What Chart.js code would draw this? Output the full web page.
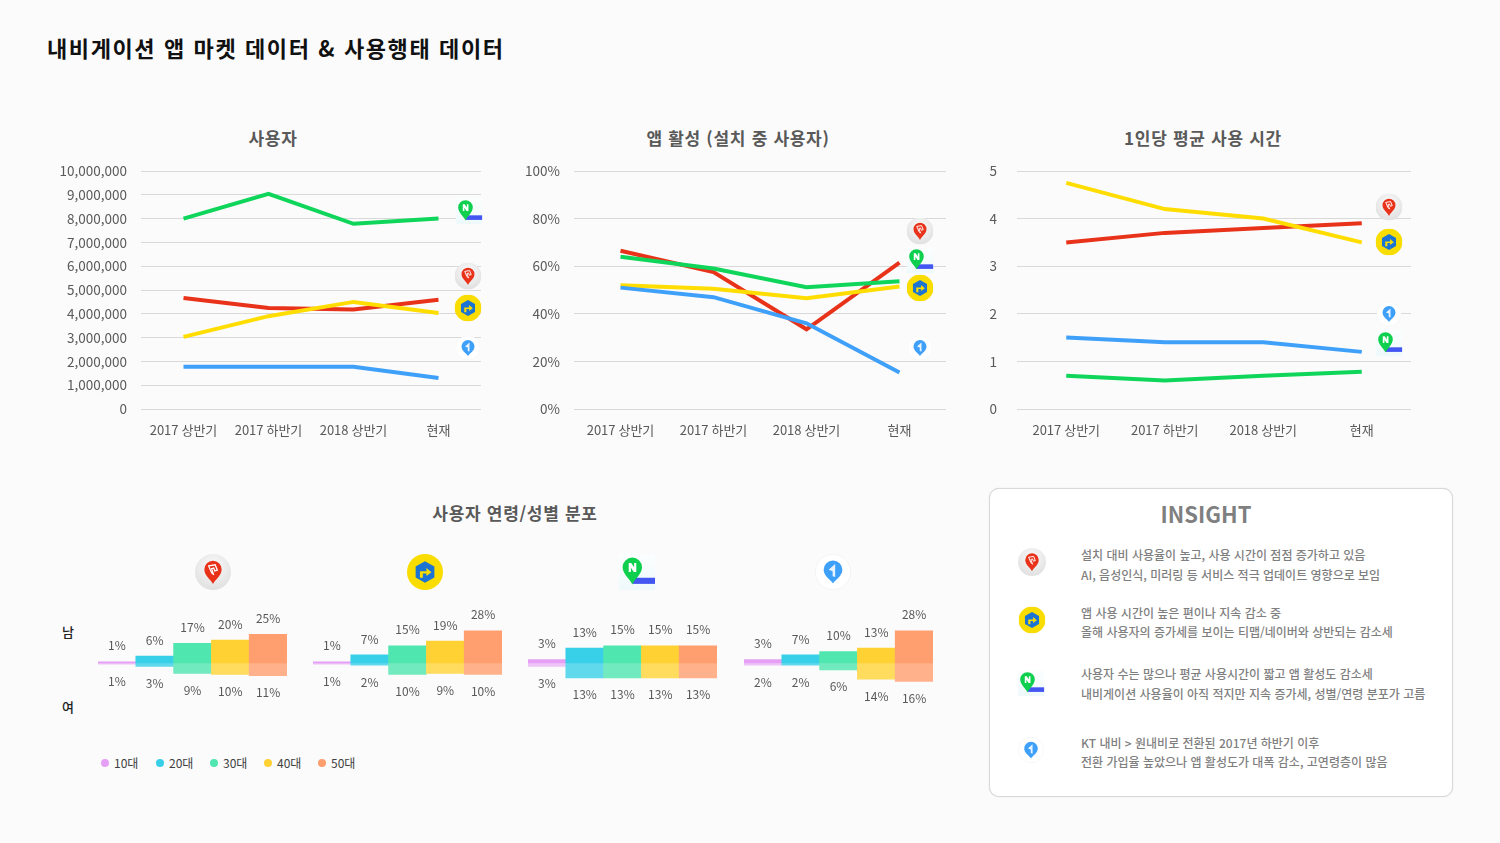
<!DOCTYPE html>
<html lang="ko">
<head>
<meta charset="utf-8">
<title>내비게이션 앱 마켓 데이터</title>
<script src="https://cdn.jsdelivr.net/npm/chart.js@4"></script>
<style>
  html, body { margin: 0; padding: 0; background: #fbfbfb; }
  body { width: 1500px; height: 843px; position: relative; overflow: hidden; font-family: "Noto Sans CJK KR", "Noto Sans", sans-serif; }
  .txt { position: absolute; white-space: nowrap; line-height: 1; transform: translateY(-50%); }
  .ctr { transform: translate(-50%, -50%); }
  .chart { position: absolute; }
  .title { font-size: 22px; font-weight: 700; color: #111; letter-spacing: 1.6px; }
  .sub { font-size: 17px; font-weight: 700; color: #595959; letter-spacing: 0.7px; }
  .card { position: absolute; left: 989px; top: 488px; width: 462px; height: 307px; background: #fff; border: 1px solid #d9d9d9; border-radius: 10px; box-shadow: 0 0 1px #ccc; }
  .ins { font-size: 12px; color: #7f7f7f; font-weight: 500; }
  .legend { font-size: 12px; color: #404040; }
  .dot { position: absolute; width: 8px; height: 8px; border-radius: 50%; transform: translateY(-50%); }
  svg.icon { position: absolute; transform: translate(-50%, -50%); }
</style>
</head>
<body>
<svg width="0" height="0" style="position:absolute">
  <defs>
    <radialGradient id="greyBg" cx="50%" cy="35%" r="70%"><stop offset="0" stop-color="#fbfbfb"/><stop offset="1" stop-color="#dedede"/></radialGradient>
    <linearGradient id="naverBg" x1="0" y1="0" x2="0" y2="1"><stop offset="0" stop-color="#fcfefe"/><stop offset="1" stop-color="#eef9fb"/></linearGradient>
    <symbol id="ic-t" viewBox="0 0 100 100">
      <circle cx="50" cy="50" r="50" fill="url(#greyBg)"/>
      <path d="M50 83C43 70 26 60 26 43a24 24 0 1 1 48 0C74 60 57 70 50 83Z" fill="#e8321a"/>
      <path d="M38 33L56 30L62 45L55 47L52 39L46 41L52 58L46 52Z" fill="none" stroke="#fff" stroke-width="3.5"/>
    </symbol>
    <symbol id="ic-k" viewBox="0 0 100 100">
      <circle cx="50" cy="50" r="50" fill="#f9dc00"/>
      <path d="M50 20L76 35V65L50 80L24 65V35Z" fill="#1b74d4"/>
      <path d="M36 66V48H54V39L68 51L54 61V54H44V66Z" fill="#f9dc00"/>
    </symbol>
    <symbol id="ic-n" viewBox="0 0 100 100">
      <rect width="100" height="100" fill="url(#naverBg)"/>
      <rect x="38" y="66" width="62" height="17" fill="#4356f2"/>
      <path d="M37 85C31 70 10 56 10 37a27 27 0 1 1 54 0C64 56 43 70 37 85Z" fill="#0fcf4f"/>
      <path d="M27 25H34L42 37V25H48V50H41L33 38V50H27Z" fill="#fff"/>
    </symbol>
    <symbol id="ic-o" viewBox="0 0 100 100">
      <circle cx="50" cy="50" r="49" fill="#fff" stroke="#f0f0f0" stroke-width="2"/>
      <path d="M50 82C44 72 24 62 24 44a26 26 0 1 1 52 0C76 62 56 72 50 82Z" fill="#3fa0fa"/>
      <path d="M38 44L56 28V64L49 62V48Z" fill="#e8f3fe"/>
    </symbol>
  </defs>
</svg>

<div class="txt title" style="left:47px;top:47px">내비게이션 앱 마켓 데이터 &amp; 사용행태 데이터</div>

<div class="txt sub ctr" style="left:273px;top:137px">사용자</div>
<div class="txt sub ctr" style="left:738px;top:137px">앱 활성 (설치 중 사용자)</div>
<div class="txt sub ctr" style="left:1203px;top:137px">1인당 평균 사용 시간</div>
<div class="txt sub ctr" style="left:515px;top:512px">사용자 연령/성별 분포</div>

<canvas id="usersChart" class="chart" style="left:40px;top:141px" width="441" height="304"></canvas>
<canvas id="activeChart" class="chart" style="left:500px;top:141px" width="446" height="304"></canvas>
<canvas id="timeChart" class="chart" style="left:960px;top:141px" width="451" height="304"></canvas>

<canvas id="ageT" class="chart" style="left:97.5px;top:600px" width="189" height="120"></canvas>
<canvas id="ageK" class="chart" style="left:313px;top:600px" width="189" height="120"></canvas>
<canvas id="ageN" class="chart" style="left:528px;top:600px" width="189" height="120"></canvas>
<canvas id="ageO" class="chart" style="left:743.5px;top:600px" width="189" height="120"></canvas>

<div class="txt ctr" style="left:68px;top:631px;font-size:13px;color:#222;font-weight:500">남</div>
<div class="txt ctr" style="left:68px;top:706px;font-size:13px;color:#222;font-weight:500">여</div>

<div id="legend"></div>

<div class="card"></div>
<div class="txt ctr" style="left:1206px;top:513px;font-size:22px;font-weight:700;color:#7f7f7f">INSIGHT</div>
<div class="txt ins" style="left:1081px;top:555px">설치 대비 사용율이 높고, 사용 시간이 점점 증가하고 있음</div>
<div class="txt ins" style="left:1081px;top:575px">AI, 음성인식, 미러링 등 서비스 적극 업데이트 영향으로 보임</div>
<div class="txt ins" style="left:1081px;top:613px">앱 사용 시간이 높은 편이나 지속 감소 중</div>
<div class="txt ins" style="left:1081px;top:632px">올해 사용자의 증가세를 보이는 티맵/네이버와 상반되는 감소세</div>
<div class="txt ins" style="left:1081px;top:674px">사용자 수는 많으나 평균 사용시간이 짧고 앱 활성도 감소세</div>
<div class="txt ins" style="left:1081px;top:694px">내비게이션 사용율이 아직 적지만 지속 증가세, 성별/연령 분포가 고름</div>
<div class="txt ins" style="left:1081px;top:743px">KT 내비 &gt; 원내비로 전환된 2017년 하반기 이후</div>
<div class="txt ins" style="left:1081px;top:762px">전환 가입율 높았으나 앱 활성도가 대폭 감소, 고연령층이 많음</div>

<div id="icons"></div>

<script>
// x axis
const periods = ['2017 상반기', '2017 하반기', '2018 상반기', '현재'];

// 사용자 수
const usersT = [4660000, 4240000, 4180000, 4590000];
const usersK = [3030000, 3900000, 4500000, 4030000];
const usersN = [8000000, 9040000, 7780000, 8000000];
const usersO = [1770000, 1770000, 1770000, 1300000];

// 앱 활성 (%)
const activeT = [66.5, 57.5, 33.5, 61.5];
const activeK = [52, 50.5, 46.5, 51.5];
const activeN = [64, 59, 51.2, 53.7];
const activeO = [51, 47, 36, 15.3];

// 1인당 평균 사용 시간
const timeT = [3.5, 3.7, 3.8, 3.9];
const timeK = [4.75, 4.2, 4.0, 3.5];
const timeN = [0.7, 0.6, 0.7, 0.78];
const timeO = [1.5, 1.4, 1.4, 1.2];

// 연령/성별 분포 (%)
const ageLabels = ['10대', '20대', '30대', '40대', '50대'];
const maleT = [1, 6, 17, 20, 25];
const femaleT = [1, 3, 9, 10, 11];
const maleK = [1, 7, 15, 19, 28];
const femaleK = [1, 2, 10, 9, 10];
const maleN = [3, 13, 15, 15, 15];
const femaleN = [3, 13, 13, 13, 13];
const maleO = [3, 7, 10, 13, 28];
const femaleO = [2, 2, 6, 14, 16];

const RED = '#e8321a', YELLOW = '#ffdd00', GREEN = '#0fd65a', BLUE = '#3fa0fa';
const ageColors = ['#e5a0f5', '#38d0e8', '#4fe6b0', '#ffd133', '#ff9e6e'];
const ageColorsLight = ['#eec4f8', '#60d9ec', '#72eabf', '#ffdb5e', '#ffb18c'];

Chart.defaults.font.family = '"Noto Sans CJK KR", "Noto Sans", sans-serif';
Chart.defaults.animation = false;
Chart.defaults.responsive = false;

function lineChart(id, t, k, n, o, yOpts, axisWidth) {
    new Chart(document.getElementById(id), {
        type: 'line',
        data: {
            labels: periods,
            datasets: [
                { data: o, borderColor: BLUE },
                { data: k, borderColor: YELLOW },
                { data: n, borderColor: GREEN },
                { data: t, borderColor: RED }
            ].map(d => Object.assign(d, { borderWidth: 4, pointRadius: 0, tension: 0, fill: false }))
        },
        options: {
            // y tick padding counts toward the top margin, so leave room above the plot
            layout: { autoPadding: false, padding: { top: 30 } },
            plugins: { legend: { display: false }, tooltip: { enabled: false } },
            scales: {
                x: {
                    offset: true,
                    grid: { display: false },
                    border: { display: false },
                    ticks: { color: '#595959', font: { size: 13 }, padding: 5, maxRotation: 0, autoSkip: false },
                    afterFit: s => { s.height = 36; }
                },
                y: Object.assign({
                    grid: { color: '#d9d9d9', drawTicks: false, lineWidth: 1 },
                    border: { display: false },
                    afterFit: s => { s.width = axisWidth; }
                }, yOpts)
            }
        }
    });
}

const tickFont = { size: 13.5 };
lineChart('usersChart', usersT, usersK, usersN, usersO, {
    min: 0, max: 10000000,
    ticks: { stepSize: 1000000, color: '#595959', font: tickFont, padding: 14, callback: v => v.toLocaleString('en-US') }
}, 101);
lineChart('activeChart', activeT, activeK, activeN, activeO, {
    min: 0, max: 100,
    ticks: { stepSize: 20, color: '#595959', font: tickFont, padding: 14, callback: v => v + '%' }
}, 74);
lineChart('timeChart', timeT, timeK, timeN, timeO, {
    min: 0, max: 5,
    ticks: { stepSize: 1, color: '#595959', font: tickFont, padding: 20 }
}, 57);

// 막대 위아래에 퍼센트 표시
const pctLabels = {
    id: 'pctLabels',
    afterDatasetsDraw(chart) {
        const { ctx } = chart;
        ctx.save();
        ctx.font = '12px "Noto Sans CJK KR", "Noto Sans", sans-serif';
        ctx.fillStyle = '#595959';
        ctx.textAlign = 'center';
        ctx.textBaseline = 'middle';
        chart.data.datasets.forEach((ds, i) => {
            chart.getDatasetMeta(i).data.forEach((bar, j) => {
                const off = i === 0 ? -16 : 17;
                ctx.fillText(Math.abs(ds.data[j]) + '%', bar.x, bar.y + off);
            });
        });
        ctx.restore();
    }
};

function ageChart(id, male, female) {
    new Chart(document.getElementById(id), {
        type: 'bar',
        data: {
            labels: ageLabels,
            datasets: [
                { data: male, backgroundColor: ageColors },
                { data: female.map(v => -v), backgroundColor: ageColorsLight }
            ]
        },
        options: {
            categoryPercentage: 1,
            barPercentage: 1,
            plugins: { legend: { display: false }, tooltip: { enabled: false } },
            scales: {
                x: { display: false, stacked: true },
                y: { display: false, stacked: true, min: -49.6, max: 54.8 }
            }
        },
        plugins: [pctLabels]
    });
}
ageChart('ageT', maleT, femaleT);
ageChart('ageK', maleK, femaleK);
ageChart('ageN', maleN, femaleN);
ageChart('ageO', maleO, femaleO);

// 범례
const legendX = [101, 156, 210, 264, 318];
document.getElementById('legend').innerHTML = ageLabels.map((label, i) =>
    `<span class="dot" style="left:${legendX[i]}px;top:763px;background:${ageColors[i]}"></span>` +
    `<span class="txt legend" style="left:${legendX[i] + 13}px;top:763px">${label}</span>`
).join('');

// 앱 아이콘
const icons = [
    ['n', 469, 211, 27], ['t', 468, 276, 27], ['k', 468, 308, 27], ['o', 468, 348, 25],
    ['t', 920, 231, 27], ['n', 920, 260, 27], ['k', 920, 288, 27], ['o', 920, 348, 25],
    ['t', 1389, 207, 27], ['k', 1389, 242, 27], ['o', 1389, 314, 25], ['n', 1389, 343, 27],
    ['t', 213, 572, 36], ['k', 425, 572, 36], ['n', 637, 572, 36], ['o', 833, 572, 36],
    ['t', 1032, 562, 28], ['k', 1032, 620, 27], ['n', 1031, 683, 27], ['o', 1031, 750, 26]
];
document.getElementById('icons').innerHTML = icons.map(([name, x, y, s]) =>
    `<svg class="icon" style="left:${x}px;top:${y}px" width="${s}" height="${s}"><use href="#ic-${name}"/></svg>`
).join('');
</script>
</body>
</html>
